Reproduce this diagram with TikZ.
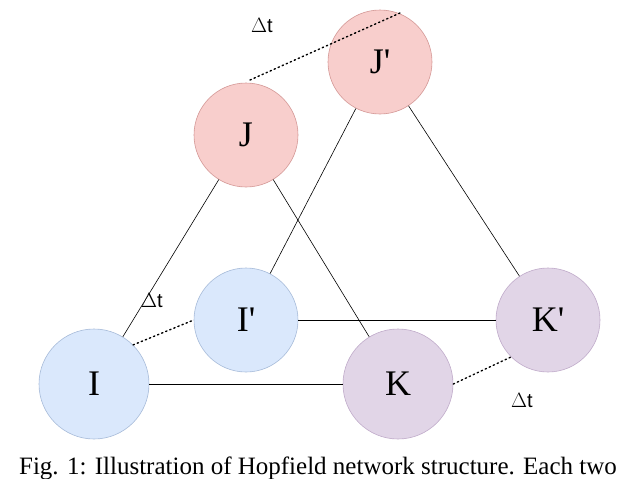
\documentclass[tikz,border=0pt]{standalone}
\usepackage{fontspec}
\setmainfont{Liberation Serif}
\newfontfamily\sansf{Liberation Sans}
\definecolor{pk}{HTML}{F8CECC}\definecolor{pkd}{HTML}{B85450}
\definecolor{bl}{HTML}{DAE8FC}\definecolor{bld}{HTML}{6C8EBF}
\definecolor{pu}{HTML}{E1D5E7}\definecolor{pud}{HTML}{9673A6}
\begin{document}
\begin{tikzpicture}[x=1pt,y=-1pt,
  nd/.style={circle,draw,line width=0.6pt,minimum size=104pt,inner sep=0pt,font=\fontsize{36}{40}\selectfont},
  red/.style={fill=pk,draw=pkd!60},
  blu/.style={fill=bl,draw=bld!60},
  pur/.style={fill=pu,draw=pud!60},
  ln/.style={line width=0.6pt},
  dt/.style={line width=1.4pt,dash pattern=on 1.4pt off 3pt,line cap=round},
  lb/.style={font=\sansf\fontsize{20}{22}\selectfont}]
\useasboundingbox (0,0) rectangle (640,479);
\begin{scope}
\clip (0,0) rectangle (640,479);
\node[nd,red] (J) at (246,135) {J};
\node[nd,red] (Jp) at (380,62) {J\textquotesingle};
\node[nd,blu,minimum size=110pt] (I) at (94,384) {I};
\node[nd,blu] (Ip) at (246,320) {I\textquotesingle};
\node[nd,pur,minimum size=110pt] (K) at (398,384) {K};
\node[nd,pur] (Kp) at (548,320) {K\textquotesingle};
\coordinate (a) at (250,80);
\coordinate (b) at (400,13);
\draw[ln] (I) -- (J);
\draw[ln] (J) -- (K);
\draw[ln] (Jp) -- (Ip);
\draw[ln] (Jp) -- (Kp);
\draw[ln] (I.east) -- (K.west);
\draw[ln] (Ip.east) -- (Kp.west);
\draw[dt] (a) -- (b);
\draw[dt] (I.north east) -- (Ip.west);
\draw[dt] (K.east) -- (Kp.south west);
\node[lb] (t1) at (262,25) {$\Delta$t};
\node[lb] (t2) at (152,300) {$\Delta$t};
\node[lb] (t3) at (522,400) {$\Delta$t};
\node[font=\fontsize{25}{28}\selectfont,anchor=center] (cap) at (318,468) {Fig. 1: Illustration of Hopfield network structure. Each two};
\end{scope}
\end{tikzpicture}
\end{document}
